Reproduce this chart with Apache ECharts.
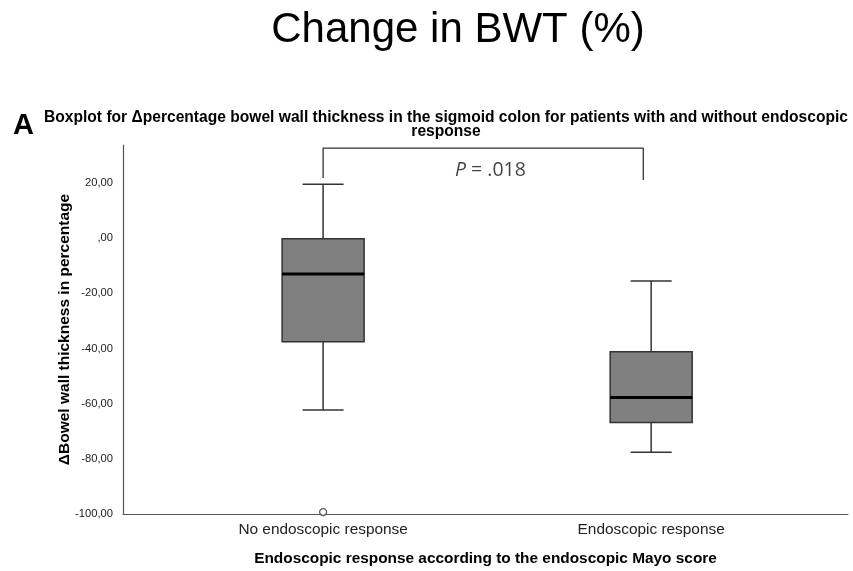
<!DOCTYPE html>
<html>
<head>
<meta charset="utf-8">
<script src="https://cdn.jsdelivr.net/npm/echarts@6/dist/echarts.min.js"></script>
<style>html,body{margin:0;padding:0;background:#fff;}#c{width:853px;height:571px;}</style>
</head>
<body>
<div id="c"></div>
<script>
// ---- data ----
const categories = ['No endoscopic response', 'Endoscopic response'];
const lowWhisker = [-62.3, -77.6];
const q1 = [-37.5, -66.8];
const median = [-13.0, -57.8];
const q3 = [-0.2, -41.2];
const highWhisker = [19.6, -15.5];
const outliers = [[0, -99.3]];
const yTickValues = [-100, -80, -60, -40, -20, 0, 20];
const bracketLevel = 32.7;
const bracketLeftEnd = 21.8;
const bracketRightEnd = 21.1;
const pLabel = '.018';

const boxData = categories.map((c, i) => [i, lowWhisker[i], q1[i], median[i], q3[i], highWhisker[i]]);

const chart = echarts.init(document.getElementById('c'), null, {renderer: 'canvas'});
const dark = '#333';
const option = {
  animation: false,
  backgroundColor: '#fff',
  title: [
    {text: 'Change in BWT (%)', left: 453, top: 4, textAlign: 'center',
     textStyle: {fontFamily: 'Liberation Sans', fontWeight: 'normal', fontSize: 42, color: '#000'}},
    {text: 'A', left: 8, top: 106,
     textStyle: {fontFamily: 'Liberation Sans', fontWeight: 'bold', fontSize: 29, color: '#000'}},
    {text: 'Boxplot for \u0394percentage bowel wall thickness in the sigmoid colon for patients with and without endoscopic\nresponse',
     left: 441, top: 106, textAlign: 'center',
     textStyle: {fontFamily: 'Liberation Sans', fontWeight: 'bold', fontSize: 15.6, lineHeight: 14, color: '#000', align: 'center'}}
  ],
  grid: {left: 123, right: 5, top: 145, bottom: 53},
  xAxis: {
    type: 'value', min: -0.61, max: 1.6,
    splitLine: {show: false},
    axisLine: {show: true, onZero: false, lineStyle: {color: '#555', width: 1.2}},
    axisTick: {show: false},
    axisLabel: {customValues: [0, 1], formatter: v => categories[Math.round(v)] || '',
      fontFamily: 'Liberation Sans', fontSize: 15.4, color: '#222', margin: 8},
    name: 'Endoscopic response according to the endoscopic Mayo score',
    nameLocation: 'middle', nameGap: 37, nameMoveOverlap: false,
    nameTextStyle: {fontFamily: 'Liberation Sans', fontWeight: 'bold', fontSize: 15.4, color: '#000'}
  },
  yAxis: {
    type: 'value', min: -100, max: 33.8, interval: 20,
    splitLine: {show: false},
    axisLine: {show: true, onZero: false, lineStyle: {color: '#555', width: 1.2}},
    axisTick: {show: false},
    axisLabel: {
      customValues: yTickValues,
      formatter: v => (v === 0 ? ',00' : v + ',00'),
      fontFamily: 'Liberation Sans', fontSize: 11.2, color: '#222', margin: 10
    },
    name: '\u0394Bowel wall thickness in percentage',
    nameLocation: 'middle', nameGap: 50, nameMoveOverlap: false,
    nameTextStyle: {fontFamily: 'Liberation Sans', fontWeight: 'bold', fontSize: 15.5, color: '#000'}
  },
  series: [
    {
      type: 'custom',
      data: boxData,
      encode: {x: 0, y: [1, 2, 3, 4, 5]},
      renderItem: function (params, api) {
        const x = api.value(0);
        const lo = api.value(1), a = api.value(2), m = api.value(3), b = api.value(4), hi = api.value(5);
        const half = api.size([0.25, 0])[0] / 2;
        const cap = half / 2;
        const P = v => api.coord([x, v]);
        const pLo = P(lo), pA = P(a), pM = P(m), pB = P(b), pHi = P(hi);
        const cx = pM[0];
        const ls = {stroke: dark, lineWidth: 1.5};
        return {
          type: 'group',
          children: [
            {type: 'line', shape: {x1: cx, y1: pB[1], x2: cx, y2: pHi[1]}, style: ls},
            {type: 'line', shape: {x1: cx, y1: pA[1], x2: cx, y2: pLo[1]}, style: ls},
            {type: 'line', shape: {x1: cx - cap, y1: pHi[1], x2: cx + cap, y2: pHi[1]}, style: ls},
            {type: 'line', shape: {x1: cx - cap, y1: pLo[1], x2: cx + cap, y2: pLo[1]}, style: ls},
            {type: 'rect', shape: {x: cx - half, y: pB[1], width: 2 * half, height: pA[1] - pB[1]},
             style: {fill: '#808080', stroke: dark, lineWidth: 1.5}},
            {type: 'line', shape: {x1: cx - half, y1: pM[1], x2: cx + half, y2: pM[1]},
             style: {stroke: '#000', lineWidth: 3}}
          ]
        };
      }
    },
    {
      type: 'scatter',
      data: outliers,
      symbol: 'circle', symbolSize: 7,
      itemStyle: {color: '#fff', borderColor: dark, borderWidth: 1.3},
      z: 5
    },
    {
      type: 'line',
      data: [[0, bracketLeftEnd], [0, bracketLevel], [0.976, bracketLevel], [0.976, bracketRightEnd]],
      symbol: 'none',
      lineStyle: {color: dark, width: 1.3},
      silent: true
    },
    {
      type: 'scatter',
      data: [[0.51, 24.7]],
      symbolSize: 0,
      label: {
        show: true, position: 'inside',
        formatter: '{i|P} = ' + pLabel,
        fontFamily: 'Open Sans', fontSize: 19.5, color: '#111',
        rich: {i: {fontStyle: 'italic', fontFamily: 'Open Sans', fontSize: 19.5, color: '#111'}}
      },
      silent: true
    }
  ]
};
chart.setOption(option);
</script>
</body>
</html>
